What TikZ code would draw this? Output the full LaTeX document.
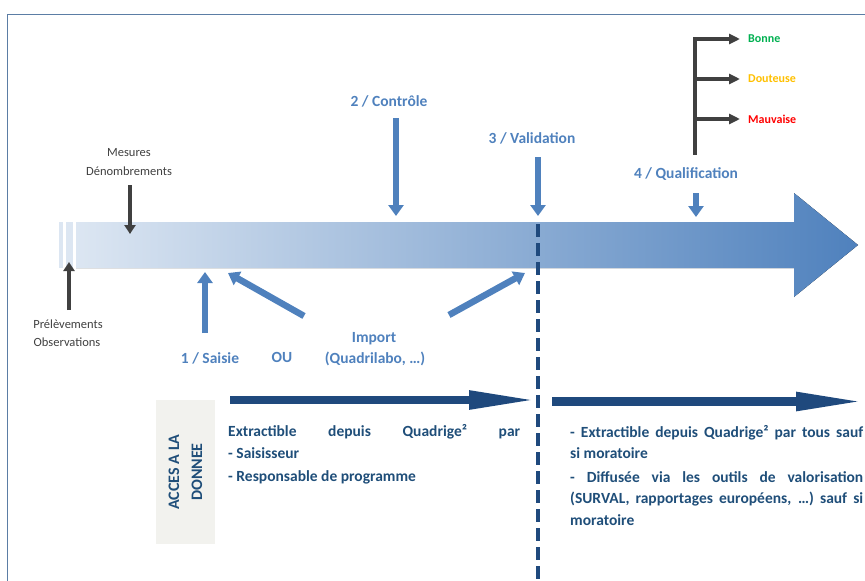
\documentclass[tikz,border=0pt]{standalone}
\usepackage{fontspec}
\setmainfont{Carlito}
\usetikzlibrary{arrows.meta}
\definecolor{framec}{HTML}{5B7DA5}
\definecolor{lblue}{HTML}{4F81BD}
\definecolor{dblue}{HTML}{1F497D}
\definecolor{dtext}{HTML}{1F4E79}
\definecolor{dgray}{HTML}{404040}
\definecolor{boxc}{HTML}{F2F2EE}
\definecolor{arrL}{HTML}{DCE6F2}
\definecolor{arrR}{HTML}{4F81BD}
\definecolor{qgreen}{HTML}{00B050}
\definecolor{qorange}{HTML}{FFC000}
\definecolor{qred}{HTML}{FF0000}
\begin{document}
\begin{tikzpicture}[x=1pt,y=-1pt,
  lbl/.style={font=\fontsize{15.5}{18}\selectfont\bfseries, text=lblue, inner sep=0pt},
  small/.style={font=\fontsize{12.5}{15}\selectfont, text=dgray, inner sep=0pt},
  qual/.style={font=\fontsize{12}{14}\selectfont\bfseries, inner sep=0pt, anchor=west},
  btxt/.style={font=\fontsize{15.5}{18}\selectfont\bfseries, text=dtext, inner sep=0pt, anchor=base west},
  barrow/.style={draw=lblue, line width=6.5pt, -{Triangle[length=11pt,width=15pt]}},
  garrow/.style={draw=dgray, line width=4pt, -{Triangle[length=9pt,width=11pt]}},
  qarrow/.style={draw=dgray, line width=4pt, -{Triangle[length=11pt,width=10pt]}},
  darrow/.style={draw=dblue, line width=8.5pt, -{Triangle[length=70pt,width=17pt]}},
]
\useasboundingbox (0,0) rectangle (865,581);
% frame
\draw[framec, line width=1pt] (7,582) -- (7,14) -- (866,14);
% big gradient arrow
\fill[arrL] (59,222) rectangle (63,268);
\fill[arrL] (66,222) rectangle (73,268);
\fill[left color=arrL, right color=arrR] (76,222) -- (794,222) -- (794,193) -- (858,245) -- (794,297) -- (794,268) -- (76,268) -- cycle;
% dashed validation line
\coordinate (dashT) at (538,224);
\coordinate (dashB) at (538,582);
\draw[dblue, line width=3.3pt, dash pattern=on 12.5pt off 6.5pt] (dashT) -- (dashB);
% gray inputs
\node[small] (mes) at (129,153) {Mesures};
\node[small] (den) at (129,171) {Dénombrements};
\node[small] (prl) at (68,324) {Prélèvements};
\node[small] (obs) at (67,342) {Observations};
\coordinate (mesS) at (130,185); \coordinate (mesE) at (130,234);
\coordinate (prlS) at (69,310); \coordinate (prlE) at (69,262);
\draw[garrow] (mesS) -- (mesE);
\draw[garrow] (prlS) -- (prlE);
% blue step labels
\node[lbl] (ctrl) at (389,101) {2 / Contrôle};
\node[lbl] (val) at (532,138) {3 / Validation};
\node[lbl] (qua) at (686,174) {4 / Qualification};
\node[lbl] (sai) at (210,358) {1 / Saisie};
\node[lbl] (ou) at (282,357) {OU};
\node[lbl] (imp1) at (374,339) {Import};
\node[lbl] (imp2) at (375,359) {(Quadrilabo, …)};
\coordinate (ctrlS) at (396,118); \coordinate (ctrlE) at (396,216);
\coordinate (valS) at (538,157); \coordinate (valE) at (538,216);
\coordinate (quaS) at (696,193); \coordinate (quaE) at (696,217);
\coordinate (saiS) at (205,333); \coordinate (saiE) at (205,272);
\coordinate (impAS) at (304,316); \coordinate (impAE) at (228,273);
\coordinate (impBS) at (449,315); \coordinate (impBE) at (525,273);
\draw[barrow] (ctrlS) -- (ctrlE);
\draw[barrow] (valS) -- (valE);
\draw[barrow] (quaS) -- (quaE);
\draw[barrow] (saiS) -- (saiE);
\draw[barrow] (impAS) -- (impAE);
\draw[barrow] (impBS) -- (impBE);
% qualification tree
\coordinate (qT) at (695,37); \coordinate (qB) at (695,155);
\draw[dgray, line width=4pt] (qT) -- (qB);
\node[qual, text=qgreen] (bon) at (748,39) {Bonne};
\node[qual, text=qorange] (dou) at (748,79) {Douteuse};
\node[qual, text=qred] (mau) at (748,119) {Mauvaise};
\coordinate (q1) at (693,39); \coordinate (q2) at (693,79); \coordinate (q3) at (693,119);
\draw[qarrow] (q1) -- ([xshift=-8pt]bon.west);
\draw[qarrow] (q2) -- ([xshift=-8pt]dou.west);
\draw[qarrow] (q3) -- ([xshift=-8pt]mau.west);
% access box
\node[fill=boxc, rotate=90, minimum width=144pt, minimum height=59pt, inner sep=0pt,
      align=center, text=dtext, font=\fontsize{16}{23}\selectfont\bfseries] (acc) at (185.5,472) {ACCES A LA\\DONNEE};
% dark arrows
\coordinate (dA1) at (230,400); \coordinate (dA2) at (539,400);
\coordinate (dB1) at (552,401.5); \coordinate (dB2) at (866,401.5);
\draw[darrow] (dA1) -- (dA2);
\draw[darrow] (dB1) -- (dB2);
% bottom texts
\node[btxt] (l1) at (228,436) {\makebox[292pt][s]{Extractible depuis Quadrige² par}};
\node[btxt] (l2) at (228,458) {- Saisisseur};
\node[btxt] (l3) at (228,481) {- Responsable de programme};
\node[btxt] (r1) at (570,437) {\makebox[293pt][s]{- Extractible depuis Quadrige² par tous sauf}};
\node[btxt] (r2) at (570,458) {si moratoire};
\node[btxt] (r3) at (570,482) {\makebox[293pt][s]{- Diffusée via les outils de valorisation}};
\node[btxt] (r4) at (570,503) {\makebox[293pt][s]{(SURVAL, rapportages européens, …) sauf si}};
\node[btxt] (r5) at (570,525) {moratoire};
\end{tikzpicture}
\end{document}
